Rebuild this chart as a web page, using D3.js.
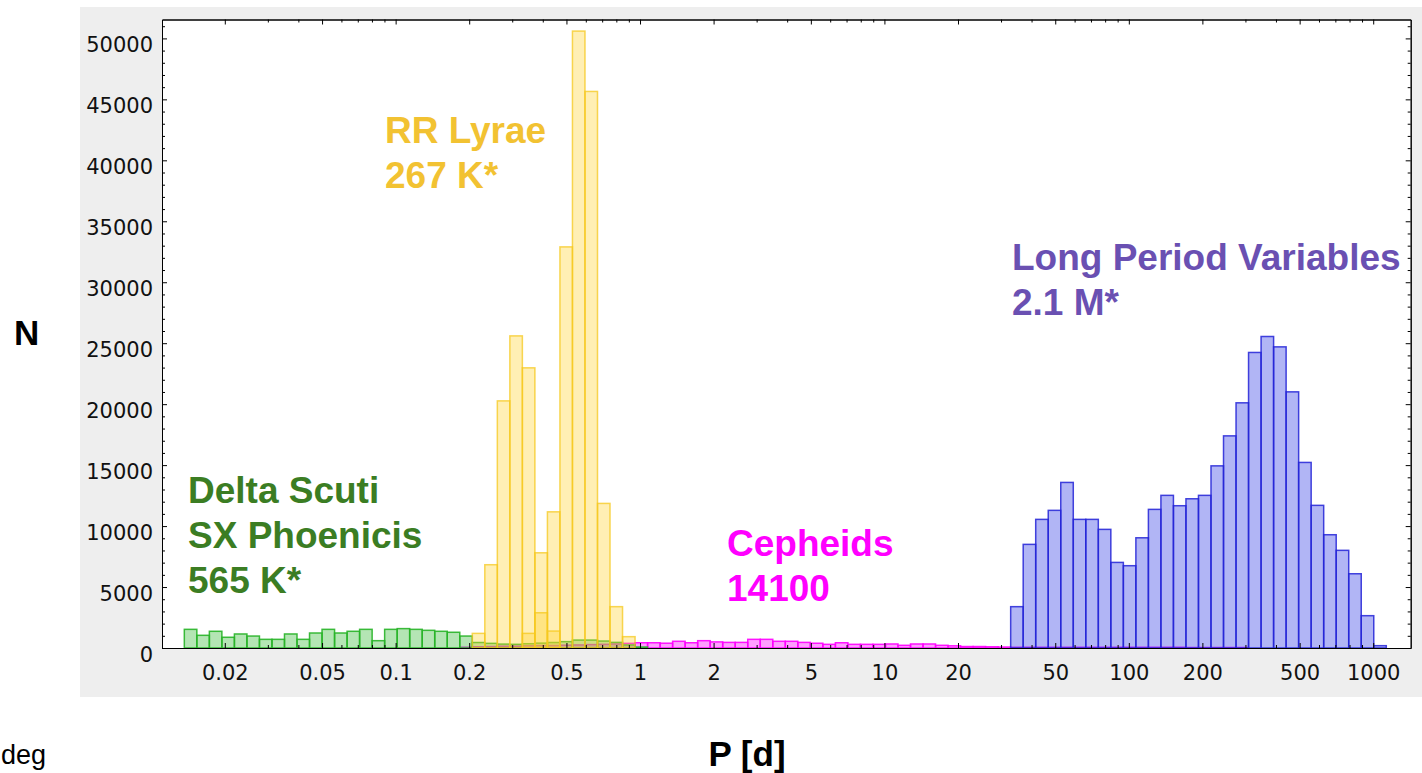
<!DOCTYPE html>
<html>
<head>
<meta charset="utf-8">
<script src="https://cdn.jsdelivr.net/npm/d3@7"></script>
<style>
  body { margin: 0; background: #fff; }
  svg { display: block; }
  .tick text { font-family: "DejaVu Sans", sans-serif; font-size: 21px; fill: #111; }
  .lbl { font-family: "Liberation Sans", Arial, sans-serif; font-weight: bold; font-size: 37px; }
</style>
</head>
<body>
<div id="chart"></div>
<script>
// histogram bins are equal in log10(P): lower edge of bin 0 and bin width (dex)
const binLog0 = -1.8646;
const binDex = 0.05123;

// Delta Scuti / SX Phoenicis, starting at bin 0
const dsctStart = 0;
const dsctCounts = [1530, 1040, 1370, 880, 1150, 980, 710, 710, 1150, 710, 1230, 1530, 1230, 1370, 1530, 600,
  1530, 1590, 1530, 1450, 1370, 1290, 980, 450, 380, 320, 300, 350, 400, 450, 520, 650, 650, 570, 460, 250, 80];

// Cepheids
const cepStart = 22;
const cepCounts = [60, 100, 120, 150, 150, 180, 200, 200, 230, 250, 280, 300, 330, 380,
  430, 430, 393, 550, 430, 600, 500, 460, 460, 710, 710, 550, 550, 460,
  390, 300, 430, 300, 300, 300, 330, 220, 330, 330, 220, 180, 120, 120, 100, 80,
  60, 60, 60, 60, 60, 60, 60, 60, 60, 60, 60, 60, 60, 60, 40, 40, 40, 40, 40];

// Long Period Variables
const lpvStart = 66;
const lpvCounts = [3390, 8500, 10550, 11290, 13580, 10550, 10550, 9730, 7020, 6750, 9040, 11370, 12520, 11670,
  12240, 12520, 14940, 17400, 20110, 24240, 25550, 24700, 21010, 15220, 11700, 9290, 8010, 6090, 2650, 190];

// RR Lyrae
const rrlStart = 23;
const rrlCounts = [1200, 6830, 20270, 25600, 22980, 7810, 11170, 32900, 50600, 45650, 11860, 3390, 930];
// second RR Lyrae layer (darker overlap)
const rrl2Start = 27;
const rrl2Counts = [1200, 2890, 1390];

const xMajor = [0.02, 0.05, 0.1, 0.2, 0.5, 1, 2, 5, 10, 20, 50, 100, 200, 500, 1000];
const yMajor = [0, 5000, 10000, 15000, 20000, 25000, 30000, 35000, 40000, 45000, 50000];

const labels = [
  { lines: ["RR Lyrae", "267 K*"], x: 385, y: 143, color: "#f2c232" },
  { lines: ["Delta Scuti", "SX Phoenicis", "565 K*"], x: 188, y: 503, color: "#3b7d23" },
  { lines: ["Cepheids", "14100"], x: 727, y: 556, color: "#ff00ff" },
  { lines: ["Long Period Variables", "2.1 M*"], x: 1012, y: 270, color: "#6a50b2" }
];

const width = 1422, height = 773;
const plotL = 162, plotR = 1410.7, plotT = 19.5, plotB = 648;

const svg = d3.select("#chart").append("svg")
  .attr("width", width)
  .attr("height", height);

svg.append("rect").attr("x", 80).attr("y", 7).attr("width", width - 80).attr("height", 690)
  .attr("fill", "#eeeeee");
svg.append("rect").attr("x", plotL).attr("y", plotT).attr("width", plotR - plotL).attr("height", plotB - plotT)
  .attr("fill", "#fff");

const x = d3.scaleLog().domain([0.011068, 1423.6]).range([plotL, plotR]);
const y = d3.scaleLinear().domain([0, 51550]).range([plotB, plotT]);

function binLo(k) { return Math.pow(10, binLog0 + k * binDex); }

function drawSeries(start, counts, fill, stroke) {
  const rows = counts.map((c, i) => ({ k: start + i, n: c }));
  svg.append("g").selectAll("rect")
    .data(rows)
    .enter().append("rect")
    .attr("x", d => x(binLo(d.k)))
    .attr("width", d => x(binLo(d.k + 1)) - x(binLo(d.k)))
    .attr("y", d => y(d.n))
    .attr("height", d => y(0) - y(d.n))
    .attr("fill", fill)
    .attr("stroke", stroke)
    .attr("stroke-width", 1.5);
}

drawSeries(cepStart, cepCounts, "rgba(255,0,255,0.38)", "rgba(255,0,255,0.9)");
drawSeries(dsctStart, dsctCounts, "rgba(40,180,40,0.35)", "rgba(40,180,40,0.9)");
drawSeries(lpvStart, lpvCounts, "rgba(60,70,230,0.4)", "rgba(35,35,215,0.85)");
drawSeries(rrlStart, rrlCounts, "rgba(255,210,40,0.35)", "rgba(245,200,30,0.75)");
drawSeries(rrl2Start, rrl2Counts, "rgba(255,210,40,0.35)", "rgba(245,200,30,0.75)");

// minor ticks
const xMinor = [];
for (let e = -2; e <= 3; e++) {
  for (let m = 1; m <= 9; m++) {
    const v = +(m * Math.pow(10, e)).toPrecision(6);
    if (v >= x.domain()[0] && v <= x.domain()[1] && !xMajor.includes(v)) xMinor.push(v);
  }
}
const yMinor = d3.range(0, 51001, 1000).filter(v => v % 5000 !== 0);

function addAxis(axis, tx, ty) {
  const g = svg.append("g").attr("transform", `translate(${tx},${ty})`).call(axis);
  g.select(".domain").attr("stroke", "#000");
  g.selectAll(".tick line").attr("stroke", "#000");
  return g;
}

// bottom
addAxis(d3.axisBottom(x).tickValues(xMinor).tickSizeInner(-3).tickSizeOuter(0).tickFormat(""), 0, plotB);
addAxis(d3.axisBottom(x).tickValues(xMajor).tickSizeInner(-5).tickSizeOuter(0).tickPadding(17)
  .tickFormat(d => String(d)), 0, plotB);
// top
addAxis(d3.axisTop(x).tickValues(xMinor).tickSizeInner(-3).tickSizeOuter(0).tickFormat(""), 0, plotT);
addAxis(d3.axisTop(x).tickValues(xMajor).tickSizeInner(-5).tickSizeOuter(0).tickFormat(""), 0, plotT);
// left
addAxis(d3.axisLeft(y).tickValues(yMinor).tickSizeInner(-3).tickSizeOuter(0).tickFormat(""), plotL, 0);
const yAx = addAxis(d3.axisLeft(y).tickValues(yMajor).tickSizeInner(-5).tickSizeOuter(0).tickPadding(9)
  .tickFormat(d3.format("d")), plotL, 0);
yAx.selectAll(".tick text").attr("dy", "13px");
// right
addAxis(d3.axisRight(y).tickValues(yMinor).tickSizeInner(-3).tickSizeOuter(0).tickFormat(""), plotR, 0);
addAxis(d3.axisRight(y).tickValues(yMajor).tickSizeInner(-5).tickSizeOuter(0).tickFormat(""), plotR, 0);

// class labels
labels.forEach(l => {
  const t = svg.append("text").attr("class", "lbl").attr("fill", l.color);
  l.lines.forEach((s, i) => {
    t.append("tspan").attr("x", l.x).attr("y", l.y + i * 45).text(s);
  });
});

// axis titles
svg.append("text").attr("class", "lbl").attr("x", 14).attr("y", 345).style("font-size", "35px").text("N");
svg.append("text").attr("class", "lbl").attr("x", 747).attr("y", 766).attr("text-anchor", "middle")
  .style("font-size", "35px").text("P [d]");
svg.append("text").attr("x", 1).attr("y", 764)
  .style("font-family", "Liberation Sans, Arial, sans-serif").style("font-size", "27px").text("deg");
</script>
</body>
</html>
